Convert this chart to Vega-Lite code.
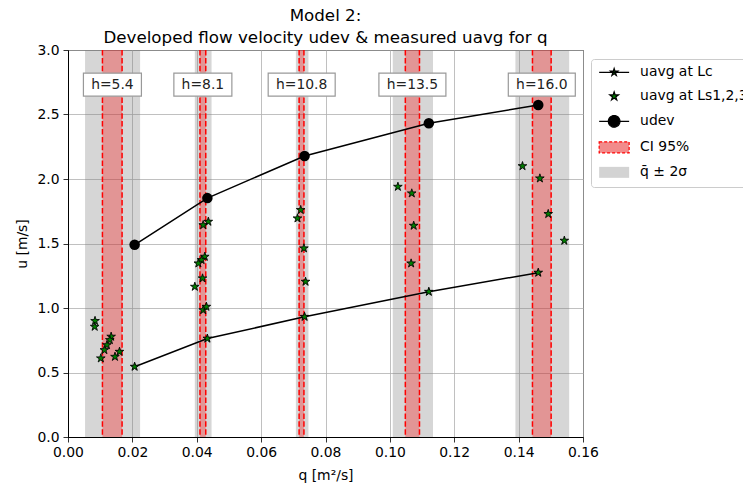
{
  "$schema": "https://vega.github.io/schema/vega-lite/v6.json",
  "width": 515,
  "height": 387,
  "autosize": {"type": "none"},
  "padding": {"left": 68, "top": 50, "right": 160, "bottom": 51},
  "title": {
    "text": ["Model 2:", "Developed flow velocity udev & measured uavg for q"],
    "fontSize": 16.7,
    "font": "DejaVu Sans",
    "fontWeight": "normal",
    "color": "black",
    "anchor": "middle",
    "offset": -4,
    "lineHeight": 22
  },
  "datasets": {
    "bands": [
      {"h": "h=5.4", "q_mean": 0.0138, "lo2s": 0.0053, "hi2s": 0.0224, "ci_lo": 0.0107, "ci_hi": 0.0168},
      {"h": "h=8.1", "q_mean": 0.0419, "lo2s": 0.0394, "hi2s": 0.0446, "ci_lo": 0.0410, "ci_hi": 0.0428},
      {"h": "h=10.8", "q_mean": 0.0726, "lo2s": 0.0708, "hi2s": 0.0747, "ci_lo": 0.0718, "ci_hi": 0.0733},
      {"h": "h=13.5", "q_mean": 0.1070, "lo2s": 0.1009, "hi2s": 0.1134, "ci_lo": 0.1048, "ci_hi": 0.1092},
      {"h": "h=16.0", "q_mean": 0.1472, "lo2s": 0.1390, "hi2s": 0.1557, "ci_lo": 0.1443, "ci_hi": 0.1501}
    ],
    "dev": [
      {"q": 0.0207, "u_dev": 1.490, "u_c": 0.545},
      {"q": 0.0433, "u_dev": 1.852, "u_c": 0.763},
      {"q": 0.0735, "u_dev": 2.178, "u_c": 0.932},
      {"q": 0.1121, "u_dev": 2.432, "u_c": 1.126},
      {"q": 0.1461, "u_dev": 2.574, "u_c": 1.274}
    ],
    "ls": [
      {"q": 0.0084, "u": 0.900},
      {"q": 0.0083, "u": 0.855},
      {"q": 0.0134, "u": 0.778},
      {"q": 0.0130, "u": 0.752},
      {"q": 0.0121, "u": 0.713},
      {"q": 0.0113, "u": 0.674},
      {"q": 0.0102, "u": 0.610},
      {"q": 0.0160, "u": 0.661},
      {"q": 0.0146, "u": 0.622},
      {"q": 0.0436, "u": 1.669},
      {"q": 0.0420, "u": 1.643},
      {"q": 0.0425, "u": 1.398},
      {"q": 0.0415, "u": 1.372},
      {"q": 0.0405, "u": 1.346},
      {"q": 0.0418, "u": 1.230},
      {"q": 0.0394, "u": 1.165},
      {"q": 0.0420, "u": 0.984},
      {"q": 0.0430, "u": 1.010},
      {"q": 0.0723, "u": 1.760},
      {"q": 0.0713, "u": 1.695},
      {"q": 0.0733, "u": 1.463},
      {"q": 0.0738, "u": 1.204},
      {"q": 0.1025, "u": 1.940},
      {"q": 0.1068, "u": 1.889},
      {"q": 0.1074, "u": 1.638},
      {"q": 0.1066, "u": 1.346},
      {"q": 0.1412, "u": 2.100},
      {"q": 0.1466, "u": 2.005},
      {"q": 0.1492, "u": 1.729},
      {"q": 0.1542, "u": 1.522}
    ]
  },
  "layer": [
    {
      "data": {"name": "bands"},
      "mark": {"type": "rect", "opacity": 0.32, "color": "gray"},
      "encoding": {
        "x": {"field": "lo2s", "type": "quantitative", "title": "q [m²/s]",
              "scale": {"domain": [0, 0.16], "nice": false, "zero": false},
              "axis": {"values": [0, 0.02, 0.04, 0.06, 0.08, 0.1, 0.12, 0.14, 0.16], "format": ".2f", "labelPadding": 3, "titlePadding": 10, "labelFlush": false}},
        "x2": {"field": "hi2s"}
      }
    },
    {
      "data": {"name": "bands"},
      "mark": {"type": "rect", "opacity": 0.3, "color": "red"},
      "encoding": {
        "x": {"field": "ci_lo", "type": "quantitative", "title": "q [m²/s]"},
        "x2": {"field": "ci_hi"}
      }
    },
    {
      "data": {"name": "bands"},
      "mark": {"type": "rule", "color": "red", "strokeDash": [5.5, 2.4], "strokeWidth": 1.5},
      "encoding": {
        "x": {"field": "ci_lo", "type": "quantitative", "title": "q [m²/s]"}
      }
    },
    {
      "data": {"name": "bands"},
      "mark": {"type": "rule", "color": "red", "strokeDash": [5.5, 2.4], "strokeWidth": 1.5},
      "encoding": {
        "x": {"field": "ci_hi", "type": "quantitative", "title": "q [m²/s]"}
      }
    },
    {
      "data": {"name": "dev"},
      "mark": {"type": "line", "color": "black", "strokeWidth": 1.5},
      "encoding": {
        "x": {"field": "q", "type": "quantitative", "title": "q [m²/s]"},
        "y": {"field": "u_dev", "type": "quantitative", "title": "u [m/s]",
              "scale": {"domain": [0, 3], "nice": false},
              "axis": {"values": [0, 0.5, 1, 1.5, 2, 2.5, 3], "format": ".1f", "labelPadding": 4, "titlePadding": 7, "labelFlush": false}}
      }
    },
    {
      "data": {"name": "dev"},
      "mark": {"type": "line", "color": "black", "strokeWidth": 1.5},
      "encoding": {
        "x": {"field": "q", "type": "quantitative", "title": "q [m²/s]"},
        "y": {"field": "u_c", "type": "quantitative", "title": "u [m/s]"}
      }
    },
    {
      "data": {"name": "ls"},
      "mark": {"type": "point", "filled": true, "size": 81, "strokeWidth": 1, "opacity": 1},
      "encoding": {
        "x": {"field": "q", "type": "quantitative", "title": "q [m²/s]"},
        "y": {"field": "u", "type": "quantitative", "title": "u [m/s]"},
        "color": {
          "datum": "uavg at Ls1,2,3,4", "type": "nominal",
          "scale": {"domain": ["uavg at Lc", "uavg at Ls1,2,3,4", "udev", "CI 95%", "q̄ ± 2σ"], "range": ["green", "green", "black", "#f28b8b", "#d3d3d3"]},
          "legend": {"title": null}
        },
        "shape": {
          "datum": "uavg at Ls1,2,3,4", "type": "nominal",
          "scale": {"domain": ["uavg at Lc", "uavg at Ls1,2,3,4", "udev", "CI 95%", "q̄ ± 2σ"],
                    "range": [
                      "M-3.33,0H3.33M0,-0.85L0.191,-0.263L0.808,-0.263L0.309,0.1L0.5,0.688L0,0.325L-0.5,0.688L-0.309,0.1L-0.808,-0.263L-0.191,-0.263Z",
                      "M0,-1L0.2245,-0.309L0.951,-0.309L0.3633,0.118L0.588,0.809L0,0.382L-0.588,0.809L-0.3633,0.118L-0.951,-0.309L-0.2245,-0.309Z",
                      "M-3.33,0H3.33M1.29,0A1.29,1.29,0,1,1,-1.29,0A1.29,1.29,0,1,1,1.29,0Z",
                      "M-3.33,-1.22H3.33V1.22H-3.33Z",
                      "M-3.33,-1.22H3.33V1.22H-3.33Z"
                    ]},
          "legend": {"title": null}
        },
        "stroke": {
          "datum": "uavg at Ls1,2,3,4", "type": "nominal",
          "scale": {"domain": ["uavg at Lc", "uavg at Ls1,2,3,4", "udev", "CI 95%", "q̄ ± 2σ"], "range": ["black", "black", "black", "red", "transparent"]},
          "legend": {"title": null}
        },
        "strokeDash": {
          "datum": "uavg at Ls1,2,3,4", "type": "nominal",
          "scale": {"domain": ["uavg at Lc", "uavg at Ls1,2,3,4", "udev", "CI 95%", "q̄ ± 2σ"], "range": [[1, 0], [1, 0], [1, 0], [3, 2], [1, 0]]},
          "legend": {"title": null}
        }
      }
    },
    {
      "data": {"name": "dev"},
      "mark": {"type": "point", "shape": "M0,-1L0.2245,-0.309L0.951,-0.309L0.3633,0.118L0.588,0.809L0,0.382L-0.588,0.809L-0.3633,0.118L-0.951,-0.309L-0.2245,-0.309Z", "filled": true, "fill": "green", "size": 81, "stroke": "black", "strokeWidth": 1, "opacity": 1},
      "encoding": {
        "x": {"field": "q", "type": "quantitative", "title": "q [m²/s]"},
        "y": {"field": "u_c", "type": "quantitative", "title": "u [m/s]"}
      }
    },
    {
      "data": {"name": "dev"},
      "mark": {"type": "point", "shape": "circle", "filled": true, "fill": "black", "size": 110, "opacity": 1},
      "encoding": {
        "x": {"field": "q", "type": "quantitative", "title": "q [m²/s]"},
        "y": {"field": "u_dev", "type": "quantitative", "title": "u [m/s]"}
      }
    },
    {
      "data": {"name": "bands"},
      "mark": {"type": "point", "filled": true, "fill": "white", "stroke": "#999999", "strokeWidth": 1.2, "opacity": 1},
      "encoding": {
        "x": {"field": "q_mean", "type": "quantitative", "title": "q [m²/s]"},
        "y": {"datum": 2.731, "type": "quantitative", "title": "u [m/s]"},
        "shape": {"condition": {"test": "length(datum.h) > 5", "value": "M-1,-0.343H1V0.343H-1Z"}, "value": "M-1,-0.397H1V0.397H-1Z"},
        "size": {"condition": {"test": "length(datum.h) > 5", "value": 4489}, "value": 3364}
      }
    },
    {
      "data": {"name": "bands"},
      "mark": {"type": "text", "font": "DejaVu Sans", "fontSize": 13.9, "color": "#222222", "align": "center", "baseline": "middle"},
      "encoding": {
        "x": {"field": "q_mean", "type": "quantitative", "title": "q [m²/s]"},
        "y": {"datum": 2.731, "type": "quantitative", "title": "u [m/s]"},
        "text": {"field": "h"}
      }
    }
  ],
  "config": {
    "font": "DejaVu Sans",
    "view": {"stroke": "black", "strokeWidth": 1},
    "legend": {
      "orient": "none",
      "legendX": 523,
      "legendY": 9,
      "padding": 6.4,
      "rowPadding": 9,
      "symbolSize": 81,
      "symbolOffset": 9.8,
      "labelOffset": 19,
      "symbolStrokeWidth": 1.2,
      "labelFontSize": 13.9,
      "labelFont": "DejaVu Sans",
      "labelColor": "black",
      "labelLimit": 300,
      "strokeColor": "#cccccc",
      "fillColor": "white",
      "cornerRadius": 3
    },
    "axis": {
      "domainColor": "black",
      "domainWidth": 1,
      "tickColor": "black",
      "tickWidth": 0.8,
      "tickSize": 5,
      "labelColor": "black",
      "titleColor": "black",
      "labelFont": "DejaVu Sans",
      "titleFont": "DejaVu Sans",
      "labelFontSize": 13.9,
      "titleFontSize": 13.9,
      "titleFontWeight": "normal",
      "gridColor": "#b0b0b0",
      "gridOpacity": 1,
      "gridWidth": 0.8
    }
  }
}
